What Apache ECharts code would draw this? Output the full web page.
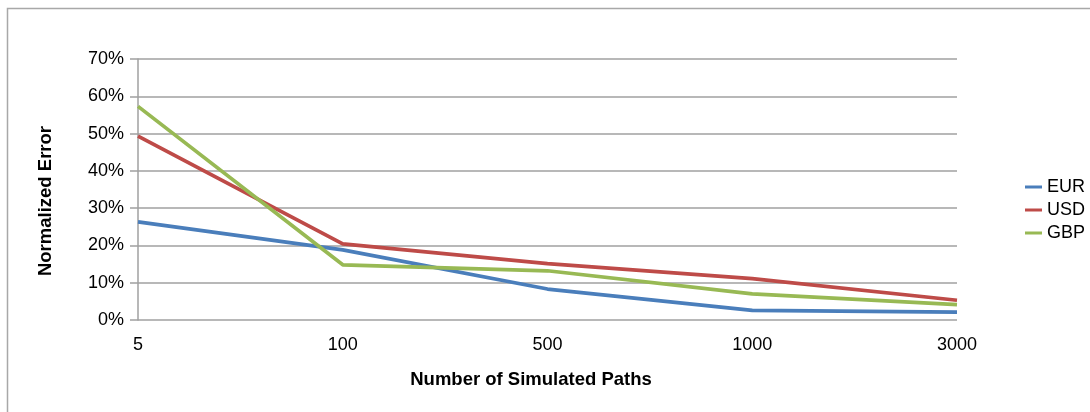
<!DOCTYPE html>
<html>
<head>
<meta charset="utf-8">
<script src="https://cdn.jsdelivr.net/npm/echarts@6/dist/echarts.min.js"></script>
<style>
  html, body { margin: 0; padding: 0; background: #fff; }
  #chart { width: 1090px; height: 412px; }
</style>
</head>
<body>
<div id="chart"></div>
<script>
// Normalized pricing error by number of simulated paths
const categories = ['5', '100', '500', '1000', '3000'];
const eur = [26.3, 18.8, 8.3, 2.6, 2.1];
const usd = [49.3, 20.4, 15.1, 11.1, 5.3];
const gbp = [57.3, 14.8, 13.2, 7.0, 4.1];
const yTicks = [0, 10, 20, 30, 40, 50, 60, 70];

const chart = echarts.init(document.getElementById('chart'), null, { renderer: 'canvas' });

const lineSeries = (name, data, color) => ({
  name,
  type: 'line',
  data,
  symbol: 'none',
  smooth: false,
  lineStyle: { color, width: 3.7 },
  itemStyle: { color },
  emphasis: { disabled: true }
});

chart.setOption({
  animation: false,
  backgroundColor: '#ffffff',
  grid: { left: 138, right: 133, top: 59, bottom: 92, containLabel: false },
  legend: {
    orient: 'vertical',
    left: 1025,
    top: 178,
    padding: 0,
    icon: 'rect',
    itemWidth: 17,
    itemHeight: 3,
    itemGap: 5,
    textStyle: { fontFamily: 'Liberation Sans', fontSize: 18, color: '#000' },
    data: ['EUR', 'USD', 'GBP']
  },
  xAxis: {
    type: 'category',
    data: categories,
    boundaryGap: false,
    axisLine: { show: false },
    axisTick: { show: false },
    axisLabel: { margin: 16, fontFamily: 'Liberation Sans', fontSize: 18, color: '#000' },
    splitLine: { show: false }
  },
  yAxis: {
    type: 'value',
    min: yTicks[0],
    max: yTicks[yTicks.length - 1],
    interval: 10,
    axisLine: { show: true, lineStyle: { color: '#a0a0a0', width: 1.5 } },
    axisTick: { show: true, length: 8, lineStyle: { color: '#a0a0a0', width: 1.5 } },
    axisLabel: {
      margin: 14,
      fontFamily: 'Liberation Sans',
      fontSize: 18,
      color: '#000',
      formatter: v => v + '%'
    },
    splitLine: { show: true, lineStyle: { color: '#a0a0a0', width: 1.5 } }
  },
  series: [
    lineSeries('EUR', eur, '#4a7ebb'),
    lineSeries('USD', usd, '#be4b48'),
    lineSeries('GBP', gbp, '#98b954')
  ],
  graphic: [
    {
      type: 'rect',
      silent: true,
      shape: { x: 7.5, y: 8.5, width: 1200, height: 500 },
      style: { fill: 'none', stroke: '#a8a8a8', lineWidth: 1.5 }
    },
    {
      type: 'text',
      silent: true,
      x: 531,
      y: 380,
      style: {
        text: 'Number of Simulated Paths',
        font: 'bold 18.5px "Liberation Sans"',
        fill: '#000',
        align: 'center',
        verticalAlign: 'middle'
      }
    },
    {
      type: 'text',
      silent: true,
      x: 46,
      y: 201,
      rotation: Math.PI / 2,
      style: {
        text: 'Normalized Error',
        font: 'bold 18.5px "Liberation Sans"',
        fill: '#000',
        align: 'center',
        verticalAlign: 'middle'
      }
    }
  ]
});
</script>
</body>
</html>
